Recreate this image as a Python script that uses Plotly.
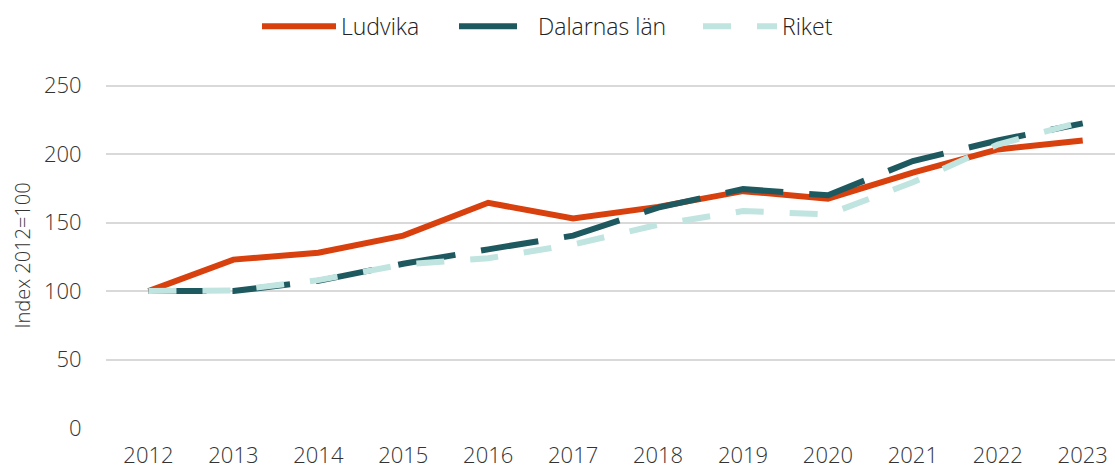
import plotly.graph_objects as go

years = ["2012", "2013", "2014", "2015", "2016", "2017", "2018", "2019", "2020", "2021", "2022", "2023"]
ludvika = [100, 123, 128, 140.5, 164.5, 153, 161.5, 173, 167.5, 186.5, 203.5, 210]
dalarna = [100, 100, 107.5, 120, 130.5, 140.5, 161, 174.5, 170, 195, 210, 222.5]
riket = [100, 100.5, 108, 119.5, 124, 134, 148.5, 158.5, 156, 179.5, 207, 224]
yticks = [0, 50, 100, 150, 200, 250]

FONT = "Open Sans"
fig = go.Figure()
fig.add_trace(go.Scatter(x=years, y=ludvika, name="Ludvika", mode="lines", legend="legend",
                         line=dict(color="#D8400E", width=6)))
fig.add_trace(go.Scatter(x=years, y=dalarna, name="Dalarnas län", mode="lines", legend="legend2",
                         line=dict(color="#1F5960", width=6, dash="58px,26px")))
fig.add_trace(go.Scatter(x=years, y=riket, name="Riket", mode="lines", legend="legend3",
                         line=dict(color="#C0E4DF", width=6, dash="28px,26px")))


def leg(xpix):
    return dict(orientation="h", xref="container", yref="container",
                x=xpix / 1115, xanchor="left", y=0.944, yanchor="middle",
                font=dict(size=23, color="#222222", weight=300), itemwidth=74,
                bgcolor="rgba(0,0,0,0)")


fig.update_layout(
    width=1115, height=468,
    margin=dict(l=106, r=0, t=83, b=40),
    paper_bgcolor="white", plot_bgcolor="white",
    font=dict(family=FONT, size=22, color="#333333", weight=300),
    showlegend=True,
    legend=leg(257), legend2=leg(454), legend3=leg(698),
    xaxis=dict(type="category", range=[-0.5, 11.38], showgrid=False, automargin=False,
               showline=False, ticks="outside", ticklen=8, tickcolor="rgba(0,0,0,0)",
               tickfont=dict(size=22), zeroline=False),
    yaxis=dict(range=[0, 252], tickvals=yticks, showgrid=True, automargin=False,
               gridcolor="#D9D9D9", gridwidth=2, zeroline=False,
               showline=False, ticks="outside", ticklen=19, tickcolor="rgba(0,0,0,0)",
               tickfont=dict(size=22),
               title=dict(text="Index 2012=100", font=dict(size=20), standoff=7)),
)
fig.write_html("out.html", config={"displayModeBar": False},
               post_script="document.body.style.margin='0';")
